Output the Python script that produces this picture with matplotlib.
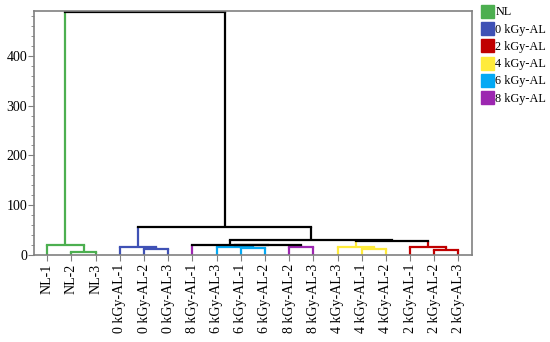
import matplotlib
matplotlib.use("Agg")
import matplotlib.pyplot as plt
from matplotlib.patches import Patch

plt.rcParams['font.family'] = ['Liberation Serif', 'DejaVu Serif']

# leaf order as drawn, and the group of each leaf
leaves = ['NL-1', 'NL-2', 'NL-3',
          '0 kGy-AL-1', '0 kGy-AL-2', '0 kGy-AL-3',
          '8 kGy-AL-1', '6 kGy-AL-3', '6 kGy-AL-1', '6 kGy-AL-2',
          '8 kGy-AL-2', '8 kGy-AL-3',
          '4 kGy-AL-3', '4 kGy-AL-1', '4 kGy-AL-2',
          '2 kGy-AL-1', '2 kGy-AL-2', '2 kGy-AL-3']
groups = ['NL'] * 3 + ['0 kGy-AL'] * 3 + ['8 kGy-AL'] + ['6 kGy-AL'] * 3 + \
         ['8 kGy-AL'] * 2 + ['4 kGy-AL'] * 3 + ['2 kGy-AL'] * 3

group_names = ['NL', '0 kGy-AL', '2 kGy-AL', '4 kGy-AL', '6 kGy-AL', '8 kGy-AL']
group_colors = ['#4CAF50', '#3F51B5', '#C00000', '#FFEB3B', '#03A9F4', '#9C27B0']

# merges: (left node, right node, height); leaves are 0..17, new nodes 18, 19, ...
merges = [
    (1, 2, 7),       # 18 NL-2 + NL-3
    (0, 18, 20),     # 19 NL
    (4, 5, 12),      # 20
    (3, 20, 16),     # 21 0 kGy
    (8, 9, 15),      # 22
    (7, 22, 16),     # 23 6 kGy
    (10, 11, 17),    # 24 8 kGy-2,3
    (23, 24, 19.5),  # 25
    (6, 25, 20),     # 26
    (13, 14, 12),    # 27
    (12, 27, 16),    # 28 4 kGy
    (16, 17, 10),    # 29
    (15, 29, 16),    # 30 2 kGy
    (28, 30, 28),    # 31
    (26, 31, 30),    # 32
    (21, 32, 56),    # 33
    (19, 33, 487),   # 34 root
]

cmap = dict(zip(group_names, group_colors))

xpos = {i: float(i) for i in range(len(leaves))}
hgt = {i: 0.0 for i in range(len(leaves))}
col = {i: cmap[g] for i, g in enumerate(groups)}
members = {i: {g} for i, g in enumerate(groups)}

fig = plt.figure(figsize=(5.5, 3.42), dpi=100)
ax = fig.add_axes([0.0618, 0.254, 0.796, 0.714])

lw = 1.6
node = len(leaves)
for a, b, h in merges:
    xpos[node] = (xpos[a] + xpos[b]) / 2
    hgt[node] = h
    members[node] = members[a] | members[b]
    col[node] = cmap[list(members[node])[0]] if len(members[node]) == 1 else 'black'
    ax.plot([xpos[a], xpos[a]], [hgt[a], h], color=col[a], lw=lw, solid_capstyle='butt')
    ax.plot([xpos[b], xpos[b]], [hgt[b], h], color=col[b], lw=lw, solid_capstyle='butt')
    ax.plot([xpos[a], xpos[b]], [h, h], color=col[node], lw=lw, solid_capstyle='projecting')
    node += 1

ax.set_xlim(-0.55, len(leaves) - 0.45)
ax.set_ylim(0, 490)
ax.set_xticks(range(len(leaves)))
ax.set_xticklabels(leaves, rotation=90, fontsize=10)
ax.set_yticks([0, 100, 200, 300, 400])
ax.set_yticks(range(0, 490, 20), minor=True)
ax.tick_params(axis='y', labelsize=10, length=4, color='#808080', pad=1)
ax.tick_params(axis='y', which='minor', length=2.5, color='#808080')
ax.tick_params(axis='x', length=4, color='#808080', pad=2)
for s in ax.spines.values():
    s.set_color('#808080')
    s.set_linewidth(1.2)

handles = [Patch(facecolor=c, edgecolor=c) for c in group_colors]
fig.legend(handles, group_names, loc='upper left', bbox_to_anchor=(0.866, 1.0),
           frameon=False, fontsize=8.8, handlelength=1.05, handleheight=1.25,
           handletextpad=0.1, labelspacing=0.3, borderaxespad=0.1,
           borderpad=0.3)

fig.savefig('out.png', dpi=100)
